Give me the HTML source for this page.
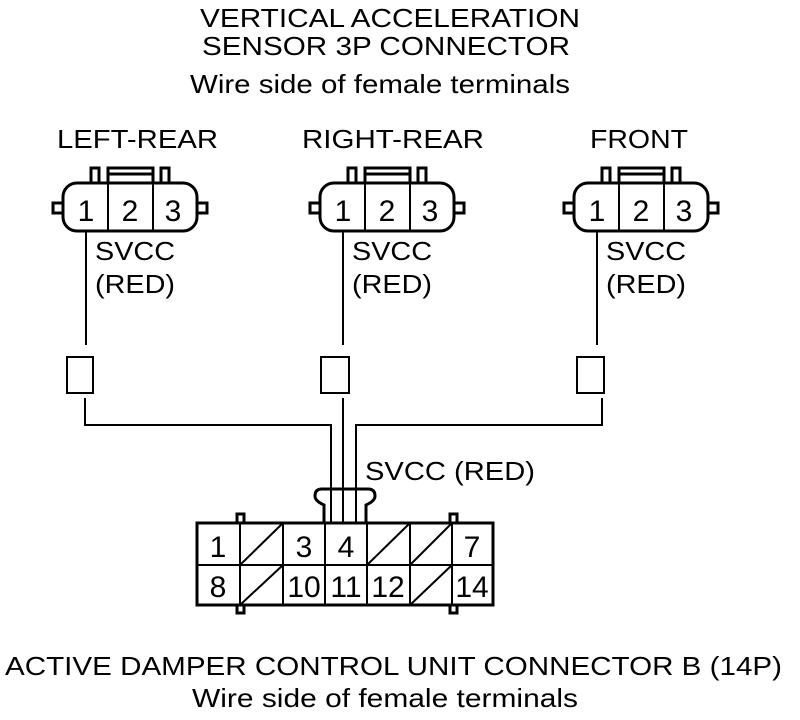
<!DOCTYPE html>
<html><head><meta charset="utf-8"><style>
html,body{margin:0;padding:0;background:#fff}
svg{display:block}
text{font-family:"Liberation Sans",sans-serif;fill:#000}
</style></head><body>
<svg width="800" height="720" viewBox="0 0 800 720" xmlns="http://www.w3.org/2000/svg">
<g font-size="26" lengthAdjust="spacingAndGlyphs">
<text x="200" y="27" textLength="380" lengthAdjust="spacingAndGlyphs">VERTICAL ACCELERATION</text>
<text x="202" y="55" textLength="368" lengthAdjust="spacingAndGlyphs">SENSOR 3P CONNECTOR</text>
<text x="190" y="93" textLength="380" lengthAdjust="spacingAndGlyphs">Wire side of female terminals</text>
<text x="57" y="148" textLength="161" lengthAdjust="spacingAndGlyphs">LEFT-REAR</text>
<text x="302" y="148" textLength="182" lengthAdjust="spacingAndGlyphs">RIGHT-REAR</text>
<text x="590" y="148" textLength="98" lengthAdjust="spacingAndGlyphs">FRONT</text>
<text x="5" y="675" textLength="777" lengthAdjust="spacingAndGlyphs">ACTIVE DAMPER CONTROL UNIT CONNECTOR B (14P)</text>
<text x="192" y="707" textLength="386" lengthAdjust="spacingAndGlyphs">Wire side of female terminals</text>
</g>
<defs>
<g id="c3">
<path d="M63,203 L53,203 L53,213 L63,213" fill="none" stroke="#000" stroke-width="3"/>
<path d="M197,203 L207,203 L207,213 L197,213" fill="none" stroke="#000" stroke-width="3"/>
<rect x="63" y="183" width="134" height="48" rx="14" fill="#fff" stroke="#000" stroke-width="3"/>
<path d="M91,183 V168 H99 V183 M161,183 V168 H169 V183" fill="none" stroke="#000" stroke-width="3"/>
<path d="M108,183 V168 H153 V183 M108,174 H153" fill="none" stroke="#000" stroke-width="3"/>
<path d="M108,183 V231 M153,183 V231" stroke="#000" stroke-width="2"/>
<g font-size="30" text-anchor="middle"><text x="86" y="221">1</text><text x="130" y="221">2</text><text x="173" y="221">3</text></g>
<g font-size="26"><text x="95" y="260" textLength="80" lengthAdjust="spacingAndGlyphs">SVCC</text><text x="95" y="293" textLength="80" lengthAdjust="spacingAndGlyphs">(RED)</text></g>
<path d="M86,231 V345" stroke="#000" stroke-width="2"/>
</g>
</defs>
<use href="#c3"/>
<use href="#c3" x="257"/>
<use href="#c3" x="511"/>
<g fill="none" stroke="#000" stroke-width="2">
<rect x="67" y="357" width="26" height="36"/>
<rect x="321" y="357" width="28" height="36"/>
<rect x="577" y="357" width="27" height="36"/>
<path d="M85,398 V425 H331 V523"/>
<path d="M343,398 V523"/>
<path d="M602,398 V425 H356 V523"/>
</g>
<text x="365" y="480" font-size="26" textLength="170" lengthAdjust="spacingAndGlyphs">SVCC (RED)</text>
<g fill="none" stroke="#000" stroke-width="3">
<path d="M324,523 V505 Q315,501 315,496 Q315,489 322,489 H368 Q375,489 375,496 Q375,501 366,505 V523"/>
<rect x="237" y="514" width="7" height="9" fill="#fff"/>
<rect x="450" y="514" width="7" height="9" fill="#fff"/>
<rect x="237" y="605" width="7" height="8" fill="#fff"/>
<rect x="450" y="605" width="7" height="8" fill="#fff"/>
<rect x="197" y="523" width="296" height="82"/>
</g>
<g fill="none" stroke="#000" stroke-width="2">
<path d="M331,489 V523 M343,489 V523 M356,489 V523"/>
<path d="M197,565 H493"/>
<path d="M240,523 V605 M283,523 V605 M325,523 V605 M367,523 V605 M410,523 V605 M452,523 V605"/>
<path d="M240,565 L283,523 M240,605 L283,565 M367,565 L410,523 M410,565 L452,523 M410,605 L452,565"/>
</g>
<g font-size="30" text-anchor="middle">
<text x="218" y="557">1</text><text x="304" y="557">3</text><text x="346" y="557">4</text><text x="472" y="557">7</text>
<text x="218" y="597">8</text><text x="304" y="597">10</text><text x="346" y="597">11</text><text x="388" y="597">12</text><text x="472" y="597">14</text>
</g>
</svg>
</body></html>
